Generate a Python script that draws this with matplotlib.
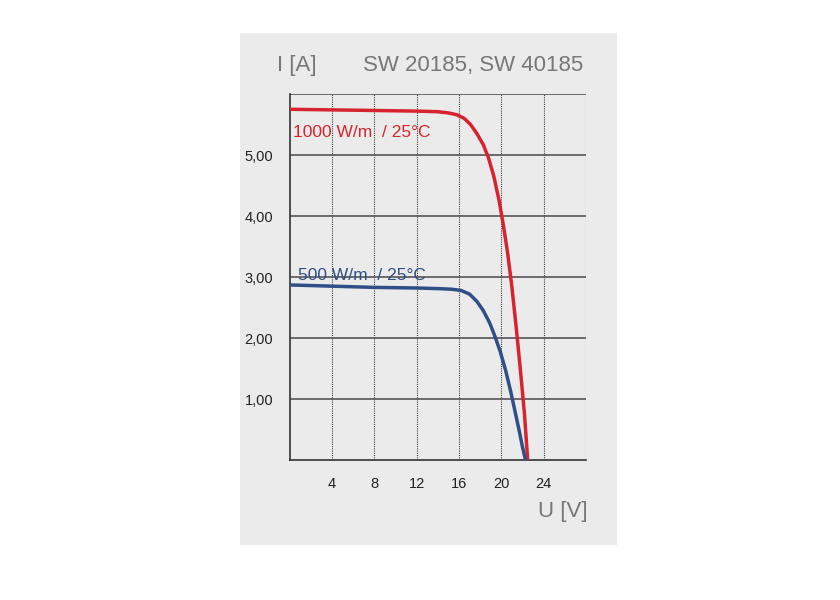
import matplotlib
matplotlib.use("Agg")
import matplotlib.pyplot as plt
from matplotlib.patches import Rectangle

plt.rcParams['font.family'] = ['Liberation Sans', 'DejaVu Sans']

u_1000 = [0, 4, 8, 12, 14, 15, 15.8, 16.5, 17.1, 17.7, 18.3, 18.8, 19.3, 19.8, 20.2, 20.6, 21.0, 21.4, 21.8, 22.2, 22.5]
i_1000 = [5.75, 5.74, 5.73, 5.72, 5.71, 5.69, 5.66, 5.6, 5.5, 5.35, 5.17, 4.95, 4.65, 4.25, 3.85, 3.4, 2.85, 2.2, 1.5, 0.75, 0.0]
u_500 = [0, 4, 8, 12, 14, 15.3, 16.2, 17.0, 17.7, 18.3, 18.9, 19.4, 19.9, 20.4, 20.9, 21.3, 21.7, 22.0, 22.3]
i_500 = [2.87, 2.85, 2.83, 2.82, 2.81, 2.80, 2.78, 2.72, 2.6, 2.45, 2.25, 2.03, 1.78, 1.48, 1.12, 0.8, 0.48, 0.22, 0.0]
x_ticks = [4, 8, 12, 16, 20, 24]
y_ticks = [1, 2, 3, 4, 5]
y_labels = ["1,00", "2,00", "3,00", "4,00", "5,00"]

fig = plt.figure(figsize=(8.4, 6), dpi=100)
bg = fig.add_axes([0, 0, 1, 1], zorder=-10)
bg.set_xlim(0, 1); bg.set_ylim(0, 1); bg.axis("off")
bg.add_patch(Rectangle((0.2857, 0.0917), 0.4488, 0.8533, facecolor="#ebebeb", edgecolor="none"))

ax = fig.add_axes([0.345, 0.2333, 0.3524, 0.61], zorder=1)
ax.set_facecolor("none")
ax.set_xlim(0, 28)
ax.set_ylim(0, 6)
for s in ["top", "right"]:
    ax.spines[s].set_visible(False)
for s in ["left", "bottom"]:
    ax.spines[s].set_color("#333333")
    ax.spines[s].set_linewidth(1.2)
for x in x_ticks + [28]:
    ax.axvline(x, color="#444444", lw=0.8, ls=(0, (1, 1)), zorder=1)
for y in y_ticks + [6]:
    ax.axhline(y, color="#555555", lw=1.2, zorder=1)
ax.set_xticks(x_ticks)
ax.set_xticklabels([str(v) for v in x_ticks])
ax.set_yticks(y_ticks)
ax.set_yticklabels(y_labels)
ax.tick_params(length=0, labelsize=10.5, colors="#222222", pad=12)

ax.plot(u_1000, i_1000, color="#d7232e", lw=2.5, zorder=3)
ax.plot(u_500, i_500, color="#2f4f86", lw=2.5, zorder=3)
ax.text(0.3, 5.3, "1000 W/m  / 25°C", color="#d7232e", fontsize=12.5, zorder=4)
ax.text(0.8, 2.95, "500 W/m  / 25°C", color="#2f4f86", fontsize=12.5, zorder=4)

fig.text(297/840, 1-65/600, "I [A]", ha="center", va="center", fontsize=16, color="#777777")
fig.text(473/840, 1-65/600, "SW 20185, SW 40185", ha="center", va="center", fontsize=16, color="#777777")
fig.text(563/840, 1-512/600, "U [V]", ha="center", va="center", fontsize=16, color="#777777")
fig.savefig("out.png", dpi=100)
